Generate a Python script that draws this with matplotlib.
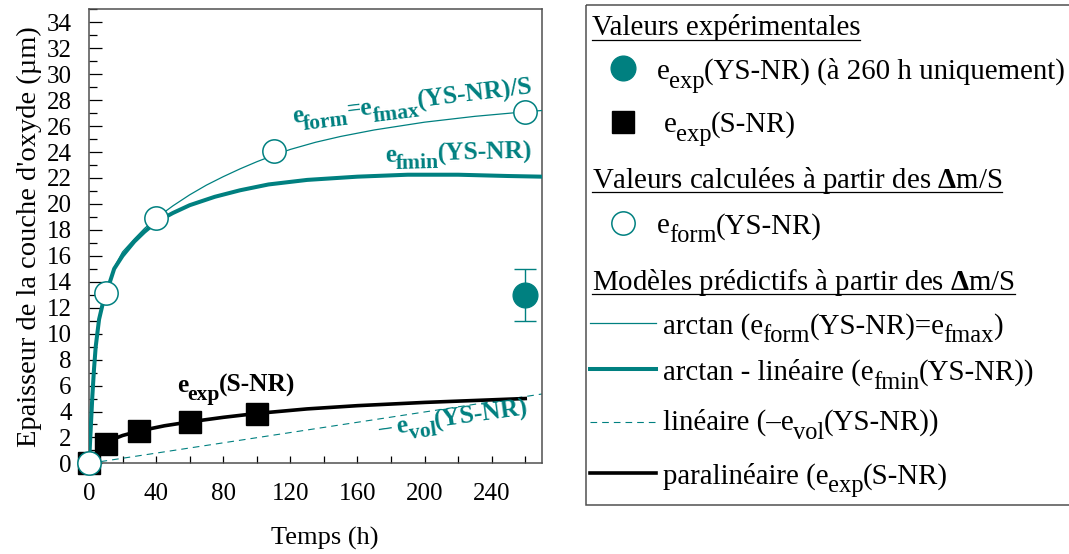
import math

import matplotlib
matplotlib.use('Agg')
import matplotlib.pyplot as plt
from matplotlib.patches import Rectangle
from matplotlib.ticker import MultipleLocator

plt.rcParams['font.family'] = ['Liberation Serif', 'DejaVu Serif']
plt.rcParams['mathtext.fontset'] = 'custom'
plt.rcParams['mathtext.rm'] = 'Liberation Serif'
plt.rcParams['mathtext.it'] = 'Liberation Serif:italic'
plt.rcParams['mathtext.bf'] = 'Liberation Serif:bold'

TEAL = '#008080'
GREY = '#505050'

# experimental values
t_snr = [0, 10, 30, 60, 100]
e_snr = [0, 1.5, 2.5, 3.2, 3.8]
t_ysnr = [260]
e_ysnr = [13.0]
err_ysnr = [2.0]

# e_form computed from dm/S
t_form = [0, 10, 40, 110, 260]
e_form = [0, 13.1, 18.9, 24.1, 27.1]

# arctan model (e_form = e_fmax)
t_fmax = [0, 1, 2, 3, 4, 6, 8, 10, 15, 20, 27, 33, 40, 50, 60, 70, 80, 90, 100, 110,
          120, 135, 150, 170, 200, 230, 260, 270]
e_fmax = [0, 2.6, 5.2, 7.3, 9.0, 11.1, 12.3, 13.1, 15.1, 16.3, 17.3, 18.1, 18.9,
          19.85, 20.7, 21.45, 22.1, 22.7, 23.25, 23.75, 24.2, 24.75, 25.2, 25.7,
          26.3, 26.75, 27.1, 27.2]

# arctan - linear model (e_fmin)
t_fmin = [0, 1, 2, 3, 4, 6, 8, 10, 15, 20, 27, 33, 40, 50, 60, 75, 90, 107, 130,
          160, 190, 220, 250, 270]
e_fmin = [0, 2.6, 5.2, 7.3, 9.0, 11.1, 12.2, 13.0, 15.0, 16.0, 17.1, 17.85, 18.6,
          19.3, 19.9, 20.55, 21.05, 21.5, 21.85, 22.1, 22.25, 22.25, 22.15, 22.1]

# linear model (-e_vol)
t_vol = [0, 270]
e_vol = [0, 5.35]

# paralinear model (e_exp S-NR)
t_para = [0, 3, 6, 10, 15, 20, 30, 45, 60, 80, 100, 130, 160, 200, 230, 260]
e_para = [0, 0.6, 1.05, 1.5, 1.9, 2.15, 2.5, 2.9, 3.2, 3.55, 3.85, 4.2, 4.45, 4.7, 4.85, 5.0]

W, H = 1069, 554
fig = plt.figure(figsize=(W / 100, H / 100), dpi=100)
rend = fig.canvas.get_renderer()


def chain(where, x, y, parts, size, rot=0.0, sub=0.85, drop=0.31, **kw):
    """write text pieces one after the other, subscripts smaller and lowered"""
    th = math.radians(rot)
    pos = 0.0
    for s, is_sub in parts:
        fs = size * sub if is_sub else size
        d = drop * size if is_sub else 0.0
        ox = pos * math.cos(th) + d * math.sin(th)
        oy = pos * math.sin(th) - d * math.cos(th)
        where.annotate(s, xy=(x, y), xycoords='data', xytext=(ox, oy),
                       textcoords='offset points', fontsize=fs, rotation=rot,
                       rotation_mode='anchor', ha='left', va='baseline', **kw)
        tmp = fig.text(0, 0, s, fontsize=fs, **kw)
        pos += tmp.get_window_extent(rend).width * 0.72 - 0.03 * fs
        tmp.remove()


ax = fig.add_axes([89 / W, 1 - 463.4 / H, (542 - 89) / W, (463.4 - 9.3) / H])

ax.plot(t_vol, e_vol, color=TEAL, lw=0.8, dashes=(6, 4.5), zorder=2)
ax.plot(t_fmax, e_fmax, color=TEAL, lw=0.9, zorder=3)
ax.plot(t_fmin, e_fmin, color=TEAL, lw=2.9, zorder=3)
ax.plot(t_para, e_para, color='black', lw=2.6, zorder=3)
ax.plot(t_snr, e_snr, 's', color='black', ms=16.3, clip_on=False, zorder=4)
ax.plot(t_form, e_form, 'o', mfc='white', mec=TEAL, mew=1.1, ms=16.8,
        clip_on=False, zorder=5)
ax.errorbar(t_ysnr, e_ysnr, yerr=err_ysnr, fmt='o', color=TEAL, ms=17.8,
            elinewidth=1.0, capsize=8, capthick=1.0, zorder=5)

ax.set_xlim(0, 270)
ax.set_ylim(0, 35)
ax.xaxis.set_major_locator(MultipleLocator(40))
ax.xaxis.set_minor_locator(MultipleLocator(20))
ax.yaxis.set_major_locator(MultipleLocator(2))
ax.yaxis.set_minor_locator(MultipleLocator(1))
ax.tick_params(axis='x', which='both', direction='in', length=5, width=0.9,
               labelsize=18, pad=14)
ax.tick_params(axis='y', which='major', direction='in', length=9.5, width=0.9,
               labelsize=18, pad=12.5)
ax.tick_params(axis='y', which='minor', direction='in', length=6, width=0.9)
for s in ax.spines.values():
    s.set_color(GREY)
    s.set_linewidth(1.1)

fig.text(325 / W, 1 - 545 / H, 'Temps (h)', ha='center', va='baseline', fontsize=19)
fig.text(29 / W, 1 - 236.7 / H, "Epaisseur de la couche d'oxyde (µm)", rotation=90,
         ha='center', va='center', fontsize=20.5)

# curve labels
ABF = 18.3
chain(ax, 121.5, 26.2, [('e', 0), ('form', 1), ('=e', 0), ('fmax', 1), ('(YS-NR)/S', 0)],
      ABF, rot=7, color=TEAL, fontweight='bold')
chain(ax, 176.5, 23.25, [('e', 0), ('fmin', 1), ('(YS-NR)', 0)],
      ABF, rot=1.5, color=TEAL, fontweight='bold')
chain(ax, 52.3, 5.5, [('e', 0), ('exp', 1), ('(S-NR)', 0)],
      ABF, color='black', fontweight='bold')
chain(ax, 173, 2.15, [('– e', 0), ('vol', 1), ('(YS-NR)', 0)],
      ABF, rot=8, color=TEAL, fontweight='bold')

# hand-made legend panel, in pixel coordinates
lax = fig.add_axes([0, 0, 1, 1])
lax.set_xlim(0, W)
lax.set_ylim(H, 0)
lax.axis('off')
lax.add_patch(Rectangle((585.7, 5), 600, 500, fill=False, ec=GREY, lw=1.1))

LFS = 20.8
headers = [
    (591.7, 35, 39.5, 'Valeurs expérimentales'),
    (591.7, 188.3, 192, r'Valeurs calculées à partir des $\mathbf{\Delta}$m/S'),
    (591.7, 290, 294, r'Modèles prédictifs à partir des $\mathbf{\Delta}$m/S'),
]
head_txt = []
for x, yb, yu, s in headers:
    head_txt.append((lax.text(x, yb, s, fontsize=LFS, ha='left', va='baseline'), yu))

lax.plot([622.7], [68.3], 'o', color=TEAL, ms=17.8, clip_on=False)
chain(lax, 656.7, 79, [('e', 0), ('exp', 1), ('(YS-NR) (à 260 h uniquement)', 0)], LFS)
lax.plot([623.3], [121.7], 's', color='black', ms=16.3, clip_on=False)
chain(lax, 664, 131.7, [('e', 0), ('exp', 1), ('(S-NR)', 0)], LFS)
lax.plot([622.7], [222.7], 'o', mfc='white', mec=TEAL, mew=1.1, ms=16.8, clip_on=False)
chain(lax, 656.7, 233.3, [('e', 0), ('form', 1), ('(YS-NR)', 0)], LFS)

lax.plot([590, 656], [322.7, 322.7], color=TEAL, lw=0.9)
chain(lax, 663.3, 333.3, [('arctan (e', 0), ('form', 1), ('(YS-NR)=e', 0), ('fmax', 1),
                          (')', 0)], LFS)
lax.plot([590, 656], [369.3, 369.3], color=TEAL, lw=2.9)
chain(lax, 663.3, 380, [('arctan - linéaire (e', 0), ('fmin', 1), ('(YS-NR))', 0)], LFS)
lax.plot([590, 656], [421.7, 421.7], color=TEAL, lw=0.8, dashes=(6, 4.5))
chain(lax, 663.3, 430, [('linéaire (–e', 0), ('vol', 1), ('(YS-NR))', 0)], LFS)
lax.plot([590, 656], [473.3, 473.3], color='black', lw=2.6)
chain(lax, 663.3, 483.3, [('paralinéaire (e', 0), ('exp', 1), ('(S-NR)', 0)], LFS)

# underline the section headers
fig.canvas.draw()
for t, yu in head_txt:
    bb = t.get_window_extent(rend)
    lax.plot([bb.x0, bb.x1], [yu, yu], color='black', lw=0.9)

fig.savefig('out.png', dpi=100)
